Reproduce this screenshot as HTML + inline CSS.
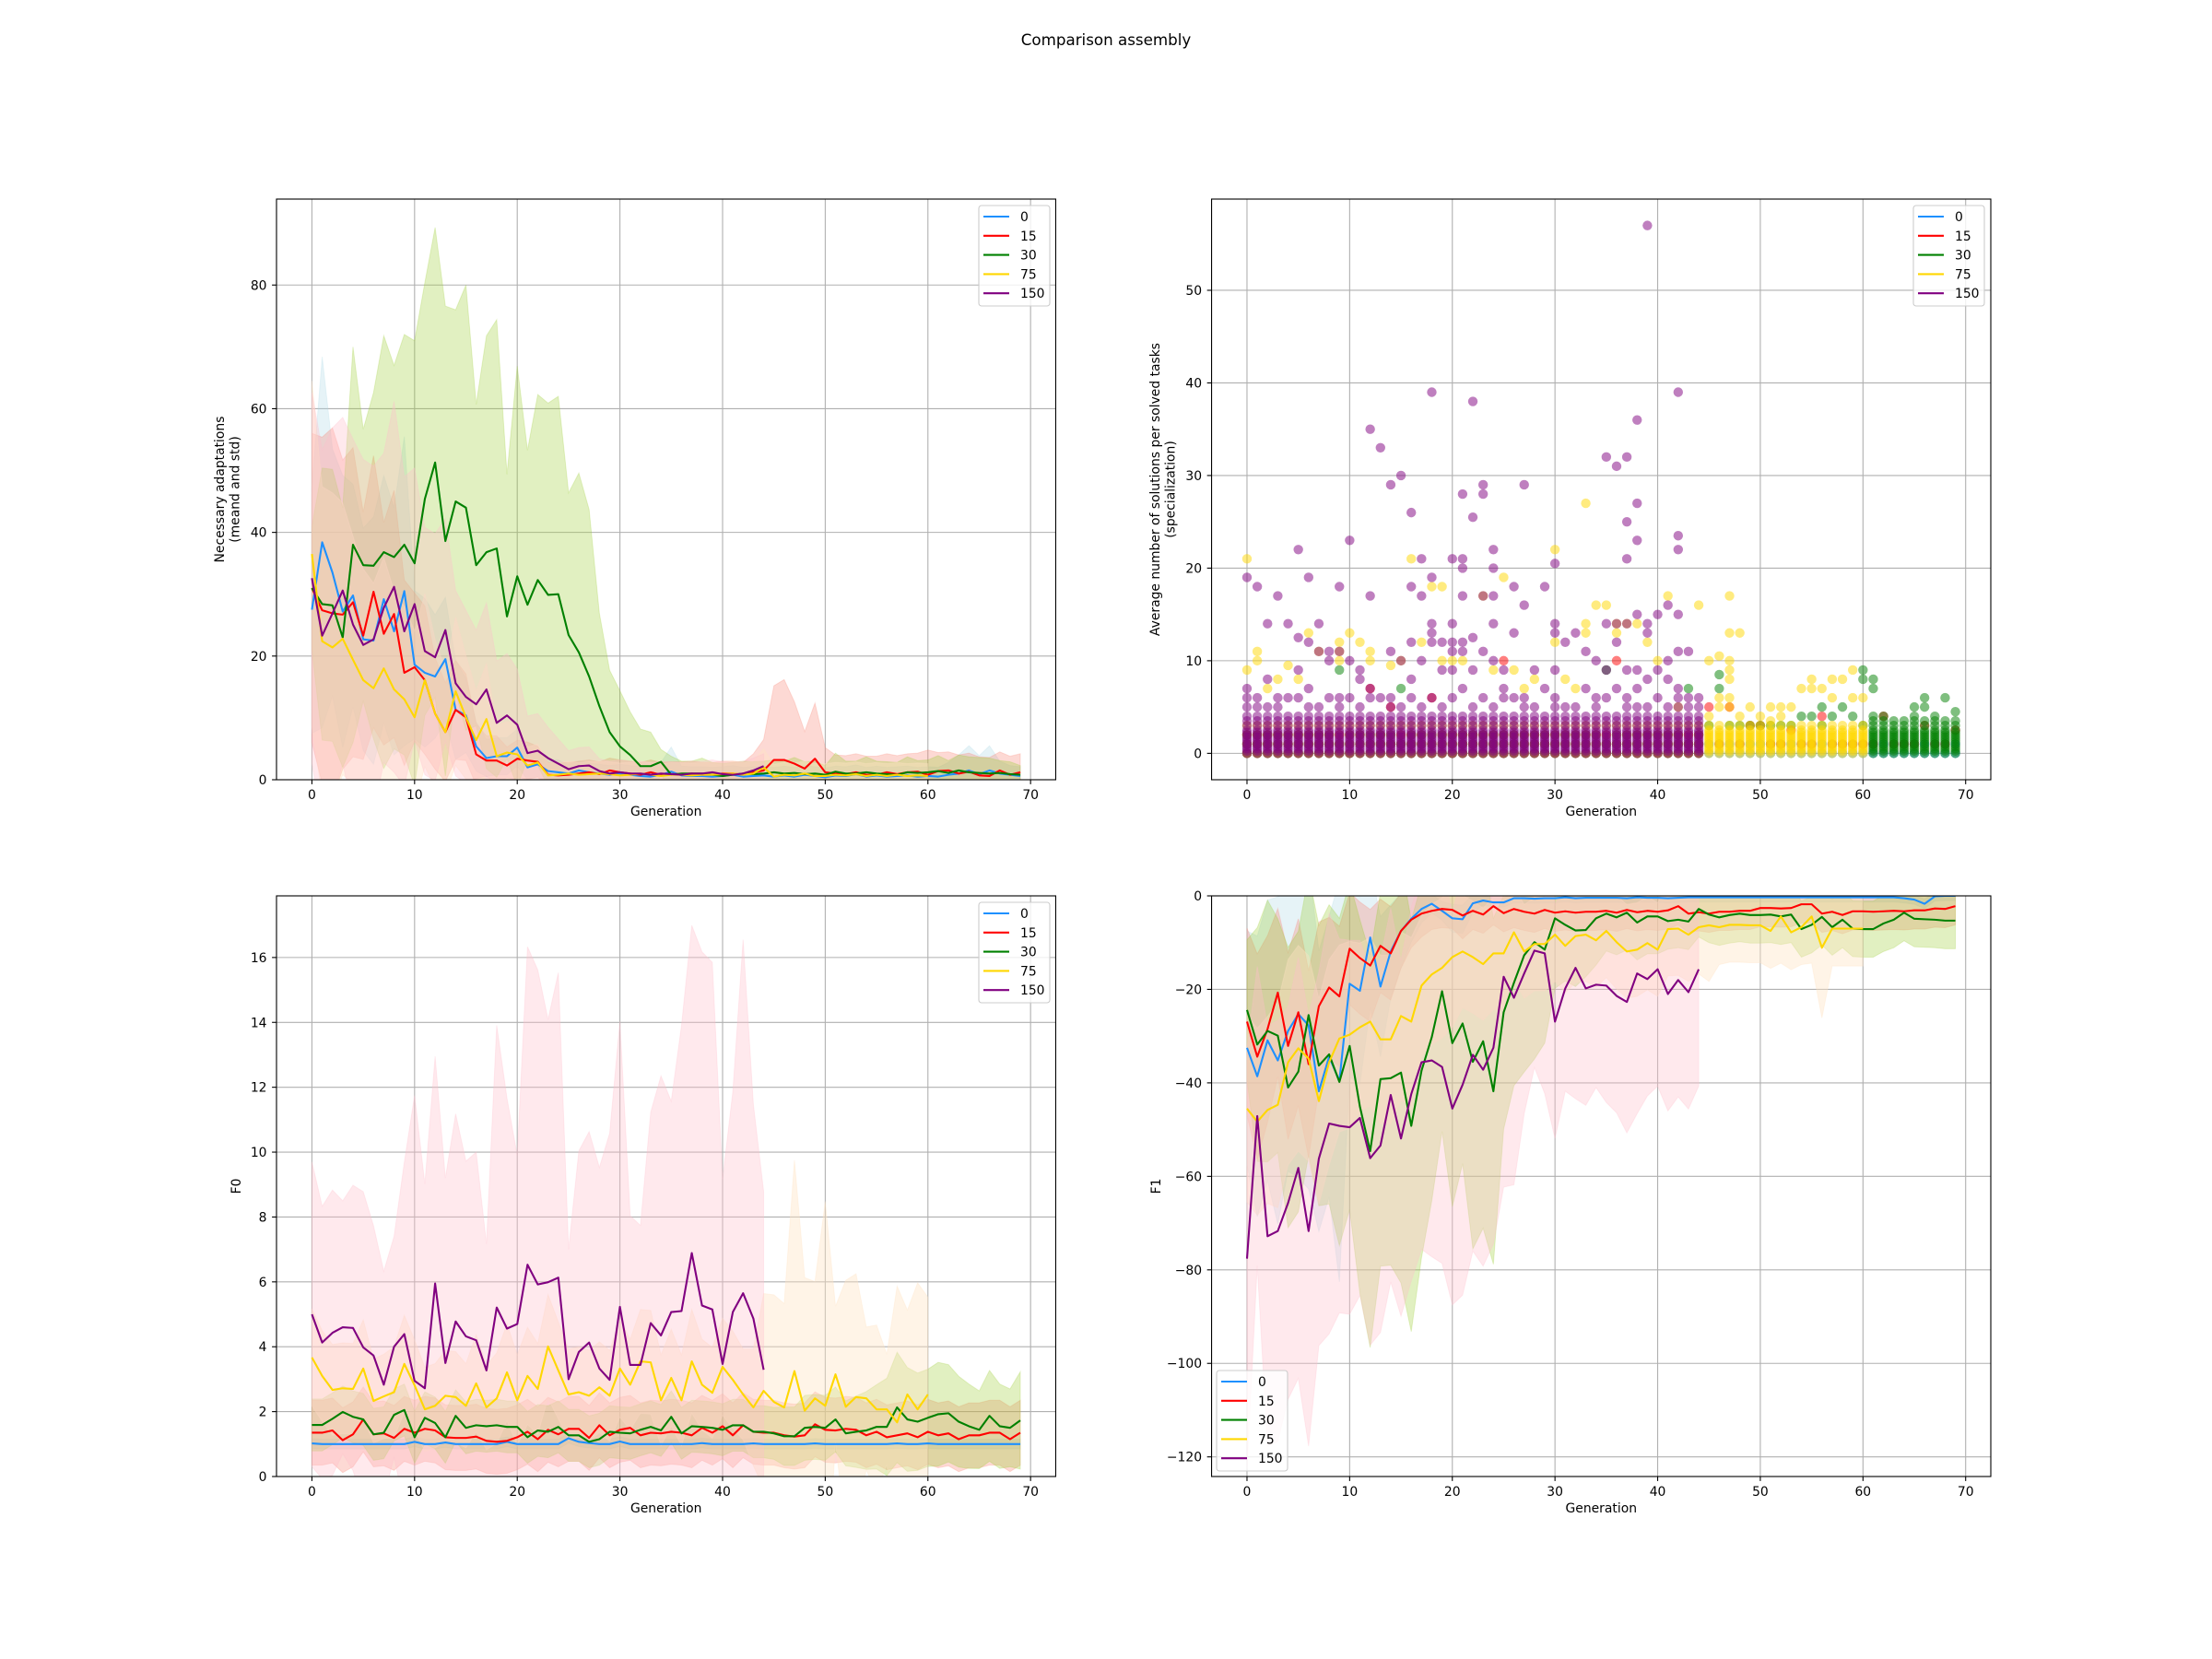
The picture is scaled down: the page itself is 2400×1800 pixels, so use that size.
<!DOCTYPE html>
<html><head><meta charset="utf-8"><title>Comparison assembly</title>
<style>
html,body{margin:0;padding:0;background:#fff;}
svg{display:block;font-family:"DejaVu Sans","Liberation Sans",sans-serif;}
</style></head>
<body>
<svg id="fig" width="2400" height="1800" viewBox="0 0 2400 1800" xmlns="http://www.w3.org/2000/svg">
<rect x="0" y="0" width="2400" height="1800" fill="#fff"/>
<text x="1200" y="49" text-anchor="middle" font-size="16.7" fill="#000">Comparison assembly</text>
</svg>
<script>
// ---------- shared ----------
const seriesNames = ["0","15","30","75","150"];
const xTicks = [0,10,20,30,40,50,60,70];

// ---------- Panel 1: necessary adaptations ----------
const p1Blue = [27.5,38.4,33.5,27.2,29.8,22.7,22.5,29.2,24,30.5,18.6,17.3,16.7,19.5,11.3,10.4,5.4,3.5,3.8,3.8,5.2,2,2.5,1.4,1.2,1,1.5,1.2,1,0.8,1,0.8,0.6,0.5,0.8,1.3,0.7,0.6,0.6,0.5,0.6,0.8,0.5,0.6,0.7,0.5,0.7,0.5,0.8,0.6,0.4,0.7,0.6,0.9,0.5,0.7,0.5,0.6,0.7,0.5,0.6,0.5,0.8,1,1.5,0.9,1.5,1,0.8,0.6];
const p1BlueStd = [20,30,20,22,18,18,20,20,20,25,12,12,10,10,8,6,4,3,3,3,3,2,2,2,2,1.5,1.5,1.5,1.5,1.5,1.5,1.5,1.5,1.5,2,4,1.5,1.5,1.5,1.5,1.5,1.5,1.5,1.5,1.5,1.5,1.5,1.5,1.5,1.5,1.5,1.5,1.5,1.5,1.5,1.5,1.5,1.5,1.5,1.5,1.5,1.5,2,3,4,3,4,2,1.5,1.5];
const p1Red = [31,27.4,26.9,26.7,28.7,23.3,30.4,23.6,26.8,17.3,18.2,16.1,10.7,7.7,11.3,10.1,4.1,3.1,3.1,2.3,3.4,3.1,2.9,0.8,0.7,0.8,1,1.2,0.9,1.5,1.2,1,0.8,1.2,0.8,0.9,0.9,1,0.8,0.8,1,1,0.8,1.2,1.5,3.2,3.2,2.6,1.8,3.4,1.2,1,0.9,1.2,0.8,0.8,1.2,0.9,1.2,1.3,0.8,1.4,1.5,1,1.3,0.7,0.6,1.5,0.8,1.2];
const p1RedStd = [25,28,30,25,25,20,22,18,20,15,12,12,9,8,8,7,5,4,4,3,3,3,2.5,2,2,2,2,2,2,2,2,2,2,2,2,2,2,2,2,2,2,2,2,3,5,12,13,10,6,9,4,3,3,3,3,3,3,3,3,3,4,3,3,3,3,3,3,3,3,3];
const p1Green = [31,28.4,28.2,23,38,34.7,34.6,36.8,36,38,35,45.4,51.3,38.6,45,44,34.7,36.8,37.4,26.4,32.9,28.3,32.3,29.9,30,23.4,20.6,16.7,11.9,7.7,5.4,4,2.2,2.2,2.9,0.8,1,1,1,0.8,0.6,0.8,1,0.9,1,1.2,1,1.1,0.9,1,0.8,1.3,1,1,1.2,1,0.9,0.8,1.2,1.1,1.2,1.4,1.1,1.5,1.2,1.1,1,1.1,0.9,0.8];
const p1GreenStd = [10,22,22,21,32,22,28,35,31,34,36,35,38,38,31,36,26,35,37,23,34,25,30,31,32,23,29,27,15,10,9,7,6,5.5,2,3,2,2,2.5,2,2,2,2,2,2,2,2,2.5,2,2,1.5,3,2,2,2.5,2,2,2,2.5,2,2,2.5,2,2.5,2.5,2.5,2.5,2,2,1.5];
const p1Yellow = [36.5,22.4,21.4,22.8,19.4,16.1,14.8,18,14.6,13,10.1,16.1,10.7,7.7,14.3,10.1,6.4,9.8,3.8,4.4,4.1,2.3,2.8,0.7,0.8,1,0.8,0.9,1,0.9,0.7,0.8,1,0.8,0.6,0.8,0.8,0.7,0.8,0.8,0.9,1,0.8,1,2,0.5,0.8,0.7,1,0.6,0.6,0.8,0.7,0.9,0.6,0.8,0.6,0.8,0.6,0.7,0.6];
const p1YellowStd = [28,25,25,22,20,18,17,18,16,15,14,14,12,10,12,10,8,9,5,5,5,3,3,2,2,2,2,2,2,2,2,2,2,2,2,2,2,2,2,2,2,2,2,2,3,2,2,2,2,2,2,2,2,2,2,2,2,2,2,2,2];
const p1Purple = [32.6,23.3,26.9,30.6,25.1,21.8,22.7,27.8,31.2,24,28.4,20.8,19.8,24.2,15.6,13.4,12.2,14.6,9.2,10.4,8.9,4.3,4.7,3.5,2.6,1.7,2.2,2.3,1.4,1,1.2,1,1,0.8,1,0.9,0.8,1,1,1.2,0.9,0.8,1,1.5,2.2];
const p1PurpleStd = [30,30,30,28,30,30,28,25,30,25,22,20,20,18,15,14,12,14,10,10,9,6,6,5,4,3,3,3,2,2,2,2,2,2,2,2,2,2,2,2,2,2,2,2,2];
const p1YTicks = [0,20,40,60,80];

// ---------- Panel 2: specialization scatter (values per generation) ----------
const p2DenseBase = "0,0.25,0.5,0.75,1,1.25,1.5,1.75,2,2.25,2.5";
const p2BluePts = ["0,1","0,1","0,1","0,1","0,1","0,1","0,1","0,1","0,1","0,1","0,1","0,1","0,1","0,1","0,1","0,1","0,1","0,1","0,1","0,1","0,1","0,1","0,1","0,1","0,1","0,1","0,1","0,1","0,1","0,1","0,1","0,1","0,1","0,1","0,1","0,1","0,1","0,1","0,1","0,1","0,1","0,1","0,1","0,1","0,1","0,1","0,1","0,1","0,1","0,1","0,1","0,1","0,1","0,1","0,1","0,1","0,1","0,1","0,1","0,1","0,1","0,1","0,1","0,1","0,1","0,1","0,1","0,1","0,1","0,1"];
const p2RedPts = ["0,1,2","0,1,2","0,1,2","0,1,2","0,1,2","0,1,2","0,1,2","0,1,2","0,1,2","0,1,2","0,1,2","0,1,2","0,1,7","0,1,2","0,1,5","0,1,2","0,1,2","0,1,2","0,1,6","0,1,2","0,1,2","0,1,2","0,1,2","0,1,2","0,1,2","0,1,2,10","0,1,2","0,1,2","0,1,2","0,1,2","0,1,2","0,1,2","0,1,2","0,1,2","0,1,2","0,1,2","0,1,10","0,1,2","0,1,2","0,1,2","0,1,2","0,1,2","0,1,2","0,1,2","0,1,2","5","1","5","1","3","3","1","1","2.5","1","1","4","1","1","1","1","1","4","1","1","1","3","1","1","2.5"];
const p2GreenPts = ["0,1,2","0,1,2","0,1,2","0,1,2","0,1,2","0,1,2","0,1,2","0,1,2","0,1,2","0,1,9","0,1,2","0,1,2","0,1,2","0,1,2","0,1,2","0,1,7","0,1,2","0,1,2","0,1,2","0,1,2","0,1,2","0,1,2","0,1,2","0,1,2","0,1,2","0,1,2","0,1,2","0,1,2","0,1,2","0,1,2","0,1,2","0,1,2","0,1,2","0,1,2","0,1,2","0,1,9","0,1,2","0,1,2","0,1,2","0,1,2","0,1,2","0,1,2","0,1,2","0,1,7","0,1,2","3","8.5,7","3","3","3","3","3","3","3","4","4","3,5","4","5","4","3,9,8","3,3.5,4,8,7","3,3.5,4","3,3.5","3,3.5","3,3.5,5,4","3,3.5,6,5","3,3.5,4","3,3.5,6","3,3.5,4.5"];
const p2GreenDenseGens = [61,62,63,64,65,66,67,68,69];
const p2YellowPts = ["0,1,2,3,9,21","0,1,2,3,10,11","0,1,2,3,7","0,1,2,3,8","0,1,2,3,9.5","0,1,2,3,8","0,1,2,3,13","0,1,2,3,11","0,1,2,3","0,1,2,3,10,11,12","0,1,2,3,13","0,1,2,3,12","0,1,2,3,11,10","0,1,2,3","0,1,2,3,9.5","0,1,2,3,10","0,1,2,3,21","0,1,2,3,12","0,1,2,3,18","0,1,2,3,18,10","0,1,2,3,10","0,1,2,3,10","0,1,2,3","0,1,2,3,17","0,1,2,3,9","0,1,2,3,19","0,1,2,3,9","0,1,2,3,7","0,1,2,3,8","0,1,2,3","0,1,2,3,22,12","0,1,2,3,8","0,1,2,3,7","0,1,2,3,27,14,13","0,1,2,3,16","0,1,2,3,16","0,1,2,3,14,13","0,1,2,3,14","0,1,2,3,14","0,1,2,3,12","0,1,2,3,10","0,1,2,3,17","0,1,2,3,5","0,1,2,3","0,1,2,3,16","3,4,10","3,5,6,10.5","3,5,6,8,9,10,13,17","3,4,13","3,5","3,4","3,3.5,5","3,4,5","3,5","3,7","3,8,7","3,7","3,8,6","3,8","3,6,9","3,6"];
const p2YellowDenseGens = [45,46,47,48,49,50,51,52,53,54,55,56,57,58,59,60];
const p2PurplePts = ["3,3.5,4,5,6,7,19","3,3.5,4,5,6,18","3,3.5,4,5,8,14","3,3.5,4,5,6,17","3,3.5,4,6,14","3,3.5,4,6,9,12.5,22","3,3.5,4,5,7,12,19","3,3.5,4,5,11,14","3,3.5,4,6,10,11","3,3.5,4,5,6,11,18","3,3.5,4,6,10,23","3,3.5,4,5,8,9","3,3.5,4,6,7,17,35","3,3.5,4,6,33","3,3.5,4,5,6,11,29","3,3.5,4,5,10,30","3,3.5,4,6,8,12,18,26","3,3.5,4,5,10,17,21","3,3.5,4,6,12,13,14,19,39","3,3.5,4,5,9,12","3,3.5,4,6,9,11,12,14,21","3,3.5,4,7,11,12,17,20,21,28","3,3.5,4,5,9,12.5,25.5,38","3,3.5,4,6,11,17,28,29","3,3.5,4,5,10,14,17,20,22","3,3.5,4,6,7,9","3,3.5,4,6,13,18","3,3.5,4,5,6,16,29","3,3.5,4,5,9","3,3.5,4,7,18","3,3.5,4,5,6,9,13,14,20.5","3,3.5,4,5,12","3,3.5,4,5,13","3,3.5,4,7,11","3,3.5,4,5,6,10","3,3.5,4,6,9,14,32","3,3.5,4,7,12,14,31","3,3.5,4,5,6,9,14,21,25,32","3,3.5,4,5,7,9,15,23,27,36","3,3.5,4,5,8,13,14,57","3,3.5,4,6,9,15","3,3.5,4,5,8,10,16","3,3.5,4,5,6,7,11,15,22,23.5,39","3,3.5,4,5,6,11","3,3.5,4,5,6"];
const p2YTicks = [0,10,20,30,40,50];

// ---------- Panel 3: F0 ----------
const p3Blue = [1.02,1,1,1,1,1,1,1,1,1,1.07,1,1,1.05,1,1,1,1,1,1.07,1,1,1,1,1,1.18,1.07,1.03,1,1,1.08,1,1,1,1,1,1,1,1.03,1,1,1,1,1.02,1,1,1,1,1,1.02,1,1,1,1,1,1,1,1.02,1,1,1.02,1,1,1,1,1,1,1,1,1];
const p3BlueStd = [0.15,0.15,0.15,0.15,0.15,0.15,0.15,0.15,0.15,0.15,0.15,0.15,0.15,0.15,0.15,0.15,0.15,0.15,0.15,0.15,0.15,0.15,0.15,0.15,0.15,0.15,0.15,0.15,0.15,0.15,0.15,0.15,0.15,0.15,0.15,0.15,0.15,0.15,0.15,0.15,0.15,0.15,0.15,0.15,0.15,0.15,0.15,0.15,0.15,0.15,0.15,0.15,0.15,0.15,0.15,0.15,0.15,0.15,0.15,0.15,0.15,0.15,0.15,0.15,0.15,0.15,0.15,0.15,0.15,0.15];
const p3Red = [1.35,1.35,1.42,1.12,1.3,1.76,1.3,1.33,1.19,1.47,1.35,1.47,1.42,1.21,1.19,1.19,1.23,1.1,1.07,1.1,1.21,1.38,1.15,1.44,1.3,1.47,1.47,1.19,1.58,1.27,1.44,1.5,1.27,1.35,1.33,1.38,1.35,1.27,1.5,1.35,1.55,1.27,1.58,1.38,1.35,1.35,1.27,1.23,1.27,1.61,1.44,1.42,1.47,1.44,1.27,1.38,1.21,1.27,1.33,1.21,1.38,1.27,1.33,1.15,1.27,1.27,1.35,1.35,1.15,1.35];
const p3RedStd = [1,1,1,1,1,1,1,1,1,1,1,1,1,1,1,1,1,1,1,1,1,1,1,1,1,1,1,1,1,1,1,1,1,1,1,1,1,1,1,1,1,1,1,1,1,1,1,1,1,1,1,1,1,1,1,1,1,1,1,1,1,1,1,1,1,1,1,1,1,1];
const p3Green = [1.59,1.59,1.78,1.99,1.84,1.76,1.3,1.35,1.9,2.05,1.21,1.81,1.65,1.21,1.87,1.5,1.58,1.55,1.58,1.53,1.53,1.21,1.42,1.38,1.53,1.27,1.27,1.07,1.15,1.38,1.35,1.33,1.44,1.53,1.42,1.84,1.33,1.55,1.53,1.5,1.44,1.58,1.58,1.38,1.38,1.33,1.24,1.24,1.5,1.53,1.5,1.76,1.33,1.38,1.42,1.53,1.53,2.13,1.76,1.69,1.81,1.92,1.95,1.69,1.55,1.44,1.87,1.55,1.5,1.73];
const p3GreenStd = [0.8,0.8,0.8,0.8,0.8,0.8,0.8,0.8,0.8,0.8,0.8,0.8,0.8,0.8,0.8,0.8,0.8,0.8,0.8,0.8,0.8,0.8,0.8,0.8,0.8,0.8,0.8,0.8,0.8,0.8,0.8,0.8,0.8,0.8,0.8,0.8,0.8,0.8,0.8,0.8,0.8,0.8,0.8,0.8,0.8,0.8,0.9,0.9,1,1,1,1,1,1.1,1.2,1.3,1.5,1.7,1.6,1.5,1.5,1.6,1.5,1.4,1.3,1.2,1.4,1.3,1.2,1.5];
const p3Yellow = [3.67,3.1,2.67,2.72,2.7,3.33,2.33,2.47,2.6,3.47,2.81,2.07,2.18,2.49,2.45,2.18,2.87,2.13,2.41,3.21,2.35,3.1,2.7,4.01,3.27,2.53,2.6,2.49,2.75,2.49,3.33,2.83,3.55,3.52,2.35,3.04,2.35,3.55,2.83,2.58,3.38,2.98,2.53,2.13,2.64,2.3,2.13,3.25,2.03,2.41,2.18,3.15,2.15,2.45,2.41,2.07,2.07,1.67,2.53,2.07,2.53];
const p3YellowStd = [1.5,1.4,1.4,1.4,1.4,1.5,1.3,1.3,1.4,1.5,1.4,1.3,1.3,1.4,1.4,1.3,1.5,1.3,1.4,1.5,1.4,1.5,1.4,1.6,1.5,1.4,1.4,1.4,1.4,1.4,1.5,1.4,1.6,1.6,1.4,1.5,1.4,1.6,1.4,1.4,1.5,1.5,1.4,1.8,3,3.3,3.2,6.5,4.1,3.6,6.3,2.1,3.9,3.8,2.2,2.6,1.7,4.2,2.6,3.9,3];
const p3Purple = [5.0,4.13,4.43,4.6,4.58,3.98,3.73,2.83,4.0,4.39,2.95,2.72,5.95,3.5,4.78,4.32,4.2,3.27,5.21,4.56,4.7,6.53,5.92,5.99,6.13,3.0,3.84,4.13,3.33,2.98,5.23,3.44,3.44,4.73,4.35,5.07,5.1,6.89,5.27,5.15,3.47,5.07,5.65,4.87,3.29];
const p3PurpleStd = [4.7,4.2,4.4,3.9,4.4,4.8,4,3.5,3.4,5.3,8.8,6.3,7,5.7,6.4,5.4,5.8,3.9,8.7,7.1,5.2,9.8,9.7,8.1,9.4,4,6.2,6.5,6.2,7.6,8.8,4.6,4.3,6.5,8,6.5,8.8,10.1,10.9,10.7,5.7,6.8,10.9,6.6,5.5];
const p3YTicks = [0,2,4,6,8,10,12,14,16];

// ---------- Panel 4: F1 ----------
const p4Blue = [-32.5,-38.6,-30.9,-35.2,-28.9,-25.3,-27.7,-41.8,-34.4,-39.6,-18.8,-20.3,-8.9,-19.4,-11.9,-7.5,-4.9,-2.8,-1.7,-3.2,-4.8,-5,-1.6,-1,-1.4,-1.4,-0.5,-0.5,-0.6,-0.5,-0.5,-0.3,-0.5,-0.4,-0.4,-0.4,-0.4,-0.5,-0.3,-0.4,-0.4,-0.5,-0.4,-0.3,-0.3,-0.3,-0.3,-0.3,-0.3,-0.3,-0.3,-0.3,-0.3,-0.3,-0.3,-0.3,-0.3,-0.3,-0.3,-0.3,-0.3,-0.3,-0.3,-0.3,-0.5,-0.8,-1.7,-0.1,0,0];
const p4BlueStd = [25,30,30,35,30,35,35,30,30,43,20,20,15,15,10,8,5,3,2,2,3,3,2,1,1,1,1,1,1,1,1,1,1,1,1,1,1,1,1,1,1,1,1,1,1,1,1,1,1,1,1,1,1,1,1,1,1,1,1,1,1,1,1,1,1,1,1,1,1,1];
const p4Red = [-26.9,-34.4,-28.5,-20.7,-32.1,-24.9,-36,-23.6,-19.6,-21.5,-11.3,-13.3,-14.9,-10.7,-12.3,-7.5,-5.1,-3.8,-3.2,-2.8,-3,-4.2,-3.2,-4,-2.2,-3.7,-2.8,-3.4,-3.8,-3,-3.6,-3.3,-3.6,-3.4,-3.4,-3.2,-3.6,-3,-3.5,-3.2,-3.4,-3.1,-2.2,-3.8,-3.5,-3.8,-3.4,-3.4,-3.2,-3.2,-2.6,-2.6,-2.7,-2.6,-1.8,-1.8,-3.8,-3.4,-4.1,-3.3,-3.3,-3.4,-3.3,-3.2,-3.3,-3.1,-3.1,-2.7,-2.8,-2.2];
const p4RedStd = [20,22,20,18,20,20,20,18,15,15,12,12,12,10,10,8,6,5,4,4,4,5,4,4,4,4,4,4,4,4,4,4,4,4,4,4,4,4,4,4,4,4,4,4,4,4,4,4,4,4,4,4,4,4,4,4,4,4,4,4,4,4,4,4,4,4,4,4,4,4];
const p4Green = [-24.4,-31.8,-28.9,-29.9,-41,-37.6,-25.5,-36.3,-33.9,-39.8,-32.1,-45.1,-54.6,-39.2,-39,-37.8,-49.2,-37.4,-30.2,-20.4,-31.5,-27.3,-35.5,-31.1,-41.8,-24.9,-18.6,-12.7,-9.9,-11.5,-4.8,-6.2,-7.4,-7.3,-4.8,-3.8,-4.6,-3.6,-5.7,-4.4,-4.4,-5.4,-5.1,-5.5,-2.8,-4,-4.6,-4.1,-3.8,-4.1,-4.1,-4,-4.4,-4,-7.1,-6.2,-4.5,-6.7,-5.1,-7,-7.1,-7.1,-5.9,-5.1,-3.6,-4.9,-5,-5.1,-5.3,-5.3];
const p4GreenStd = [15,25,28,25,30,30,30,30,32,35,35,40,42,40,40,45,44,40,35,30,35,30,40,40,37,25,22,25,25,20,15,12,12,10,10,8,8,8,8,8,8,6,6,6,6,6,6,6,6,6,6,6,6,6,6,6,6,6,6,6,6,6,6,6,6,6,6,6,6,6];
const p4Yellow = [-45.5,-48.3,-45.8,-44.7,-35.6,-32.6,-34.8,-43.9,-35.6,-30.5,-29.7,-28.1,-26.9,-30.7,-30.7,-25.7,-26.9,-19.2,-16.8,-15.4,-13.1,-11.9,-13.1,-14.6,-12.3,-12.3,-7.8,-11.9,-10.3,-10.3,-8.3,-10.7,-8.6,-8.3,-9.5,-7.5,-9.9,-11.9,-11.5,-10.1,-11.5,-7.1,-7,-8.3,-6.7,-6.3,-6.7,-6.2,-6.2,-6.3,-6.3,-7.5,-4.4,-7.8,-6.7,-4.4,-11.1,-7,-7,-7,-7];
const p4YellowStd = [20,20,20,22,22,22,22,22,22,20,20,18,18,18,18,18,18,15,15,15,15,12,12,12,12,12,10,10,10,10,10,10,10,10,10,10,10,10,10,10,10,10,10,10,10,12,8,8,8,8,8,8,10,8,8,10,15,8,8,8,8];
const p4Purple = [-77.6,-47.1,-72.8,-71.7,-65.7,-58.2,-71.7,-56.2,-48.7,-49.2,-49.5,-47.5,-56.1,-53.4,-42.6,-51.9,-42.4,-35.6,-35.2,-36.6,-45.5,-40.4,-34,-37.2,-32.5,-17.3,-21.8,-16.6,-11.7,-12.3,-26.9,-19.8,-15.4,-19.8,-19,-19.2,-21.4,-22.7,-16.6,-17.8,-15.7,-21,-18,-20.6,-15.7];
const p4PurpleStd = [45,32,45,45,42,45,46,40,45,40,40,38,40,40,40,38,40,40,42,42,42,45,42,42,42,45,40,30,25,30,25,22,28,25,22,25,25,28,30,25,25,25,25,25,25];
const p4YTicks = [-120,-100,-80,-60,-40,-20,0];

// ---------- drawing ----------
const NS = "http://www.w3.org/2000/svg";
const fig = document.getElementById("fig");
const lineColors = ["#1e90ff","#ff0000","#008000","#ffd700","#800080"];
const bandColors = ["#add8e6","#fa8072","#9acd32","#ffe4c4","#ffc0cb"];
const bandAlpha = [0.3,0.3,0.3,0.4,0.35];
const keys = ["0","15","30","75","150"];
const AW = 845.45, AH = 630;
function el(tag, parent) { const e = document.createElementNS(NS, tag); parent.appendChild(e); return e; }
function fmt(v) { return v < 0 ? "\u2212" + Math.abs(v) : String(v); }

function makeAxes(id, x0, y0, ylim, yTicks, xlabel, ylabelLines, ylabelX) {
  const g = el("g", fig);
  
  
  const sx = v => x0 + (v - (-3.45)) / 75.9 * AW;
  const sy = v => y0 + AH - (v - ylim[0]) / (ylim[1] - ylim[0]) * AH;
  const clip = el("clipPath", g); clip.setAttribute("id", id + "-clip");
  const cr = el("rect", clip); cr.setAttribute("x", x0); cr.setAttribute("y", y0); cr.setAttribute("width", AW); cr.setAttribute("height", AH);
  const grid = el("g", g);
  
  
  xTicks.forEach(t => { const l = el("line", grid); l.setAttribute("x1", sx(t)); l.setAttribute("x2", sx(t)); l.setAttribute("y1", y0); l.setAttribute("y2", y0 + AH); l.setAttribute("stroke", "#b0b0b0"); l.setAttribute("stroke-width", "1.1"); });
  yTicks.forEach(t => { const l = el("line", grid); l.setAttribute("x1", x0); l.setAttribute("x2", x0 + AW); l.setAttribute("y1", sy(t)); l.setAttribute("y2", sy(t)); l.setAttribute("stroke", "#b0b0b0"); l.setAttribute("stroke-width", "1.1"); });
  const plot = el("g", g); plot.setAttribute("clip-path", "url(#" + id + "-clip)");
  
  
  const sp = el("rect", g); sp.setAttribute("x", x0); sp.setAttribute("y", y0); sp.setAttribute("width", AW); sp.setAttribute("height", AH); sp.setAttribute("fill", "none"); sp.setAttribute("stroke", "#000"); sp.setAttribute("stroke-width", "1.1");
  
  
  const tk = el("g", g); tk.setAttribute("font-size", "13.9"); tk.setAttribute("fill", "#000");
  
  
  xTicks.forEach(t => {
    const l = el("line", tk); l.setAttribute("x1", sx(t)); l.setAttribute("x2", sx(t)); l.setAttribute("y1", y0 + AH); l.setAttribute("y2", y0 + AH + 4.9); l.setAttribute("stroke", "#000"); l.setAttribute("stroke-width", "1.1");
    const tx = el("text", tk); tx.setAttribute("x", sx(t)); tx.setAttribute("y", y0 + AH + 21); tx.setAttribute("text-anchor", "middle"); tx.textContent = fmt(t);
  });
  yTicks.forEach(t => {
    const l = el("line", tk); l.setAttribute("x1", x0 - 4.9); l.setAttribute("x2", x0); l.setAttribute("y1", sy(t)); l.setAttribute("y2", sy(t)); l.setAttribute("stroke", "#000"); l.setAttribute("stroke-width", "1.1");
    const tx = el("text", tk); tx.setAttribute("x", x0 - 10.5); tx.setAttribute("y", sy(t) + 5); tx.setAttribute("text-anchor", "end"); tx.textContent = fmt(t);
  });
  const xl = el("text", g); xl.setAttribute("x", x0 + AW / 2); xl.setAttribute("y", y0 + AH + 39); xl.setAttribute("text-anchor", "middle"); xl.setAttribute("font-size", "13.9"); xl.textContent = xlabel;
  
  
  const cy = y0 + AH / 2;
  ylabelLines.forEach((s, i) => {
    const yl = el("text", g);
    const xx = ylabelX + i * 16.5;
    yl.setAttribute("x", xx); yl.setAttribute("y", cy); yl.setAttribute("text-anchor", "middle"); yl.setAttribute("font-size", "13.9");
    yl.setAttribute("transform", "rotate(-90 " + xx + " " + cy + ")"); yl.setAttribute("dominant-baseline", "central");
    yl.textContent = s;
    
    
  });
  return { plot, sx, sy };
}

function drawBand(ax, mean, std, i, id) {
  let up = [], lo = [];
  for (let k = 0; k < mean.length; k++) { up.push(ax.sx(k) + "," + ax.sy(mean[k] + std[k])); lo.unshift(ax.sx(k) + "," + ax.sy(mean[k] - std[k])); }
  const p = el("polygon", ax.plot);
  p.setAttribute("points", up.concat(lo).join(" "));
  p.setAttribute("fill", bandColors[i]); p.setAttribute("fill-opacity", bandAlpha[i]);
  p.setAttribute("stroke", bandColors[i]); p.setAttribute("stroke-opacity", bandAlpha[i] * 0.8); p.setAttribute("stroke-width", "1");
  
  
}
function drawLine(ax, mean, i, id) {
  const p = el("polyline", ax.plot);
  p.setAttribute("points", mean.map((v, k) => ax.sx(k) + "," + ax.sy(v)).join(" "));
  p.setAttribute("fill", "none"); p.setAttribute("stroke", lineColors[i]); p.setAttribute("stroke-width", "2.1"); p.setAttribute("stroke-linejoin", "round");
  
  
}
function drawLegend(x, y, id) {
  const g = el("g", fig);
  
  
  const r = el("rect", g); r.setAttribute("x", x); r.setAttribute("y", y); r.setAttribute("width", 77); r.setAttribute("height", 109); r.setAttribute("rx", 3);
  r.setAttribute("fill", "#fff"); r.setAttribute("fill-opacity", "0.8"); r.setAttribute("stroke", "#cccccc"); r.setAttribute("stroke-width", "1.1");
  keys.forEach((k, i) => {
    const cy = y + 12 + i * 20.8;
    const l = el("line", g); l.setAttribute("x1", x + 5); l.setAttribute("x2", x + 33); l.setAttribute("y1", cy); l.setAttribute("y2", cy); l.setAttribute("stroke", lineColors[i]); l.setAttribute("stroke-width", "2.1");
    
    
    const t = el("text", g); t.setAttribute("x", x + 45); t.setAttribute("y", cy + 5); t.setAttribute("font-size", "13.9"); t.textContent = k;
    
    
  });
}
function linePanel(id, x0, y0, ylim, yTicks, ylab, ylabX, means, stds, legXY) {
  const ax = makeAxes(id, x0, y0, ylim, yTicks, "Generation", ylab, ylabX);
  means.forEach((m, i) => drawBand(ax, m, stds[i], i, id));
  means.forEach((m, i) => drawLine(ax, m, i, id));
  drawLegend(legXY[0], legXY[1], id);
}

const LX = 300, RX = 1314.55, TY = 216, BY = 972;
linePanel("adaptations", LX, TY, [0, 93.9], p1YTicks, ["Necessary adaptations", "(meand and std)"], 239,
  [p1Blue, p1Red, p1Green, p1Yellow, p1Purple], [p1BlueStd, p1RedStd, p1GreenStd, p1YellowStd, p1PurpleStd], [1062, 223]);

// scatter panel
(function () {
  const id = "specialization";
  const ax = makeAxes(id, RX, TY, [-2.85, 59.85], p2YTicks, "Generation", ["Average number of solutions per solved tasks", "(specialization)"], 1254);
  // expand dense bases
  const greenSet = p2GreenPts.map((s, g) => p2GreenDenseGens.indexOf(g) >= 0 ? p2DenseBase + "," + s : s);
  const yellowSet = p2YellowPts.map((s, g) => p2YellowDenseGens.indexOf(g) >= 0 ? p2DenseBase + "," + s : s);
  const purpleSet = p2PurplePts.map(s => p2DenseBase + "," + s);
  const sets = [p2BluePts, p2RedPts, greenSet, yellowSet, purpleSet];
  sets.forEach((arr, i) => {
    const g = el("g", ax.plot);
    
    
    arr.forEach((s, gen) => {
      s.split(",").forEach(vs => {
        const v = parseFloat(vs);
        const c = el("circle", g);
        c.setAttribute("cx", ax.sx(gen)); c.setAttribute("cy", ax.sy(v)); c.setAttribute("r", "5.2");
        c.setAttribute("fill", lineColors[i]); c.setAttribute("fill-opacity", "0.5");
        
        
      });
    });
  });
  drawLegend(2076, 223, id);
})();

linePanel("f0", LX, BY, [0, 17.9], p3YTicks, ["F0"], 257,
  [p3Blue, p3Red, p3Green, p3Yellow, p3Purple], [p3BlueStd, p3RedStd, p3GreenStd, p3YellowStd, p3PurpleStd], [1062, 979]);
linePanel("f1", RX, BY, [-124.2, 0], p4YTicks, ["F1"], 1255,
  [p4Blue, p4Red, p4Green, p4Yellow, p4Purple], [p4BlueStd, p4RedStd, p4GreenStd, p4YellowStd, p4PurpleStd], [1320, 1487]);
</script>
</body></html>
